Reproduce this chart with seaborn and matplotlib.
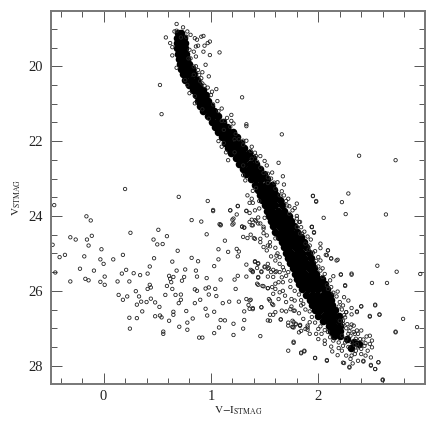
import matplotlib
matplotlib.use('Agg')
import matplotlib.pyplot as plt
import pandas as pd
import seaborn as sns
from matplotlib.ticker import MultipleLocator

# solid core of the main sequence, read row by row (colour, magnitude)
core_upper = [
    (.69,19.10),(.72,19.10),(.68,19.24),(.72,19.24),(.75,19.24),(.68,19.38),(.72,19.38),(.76,19.38),(.685,19.52),(.72,19.52),(.755,19.52),
    (.69,19.66),(.73,19.66),(.77,19.66),(.70,19.80),(.74,19.80),(.78,19.80),(.71,19.94),(.76,19.94),(.80,19.94),(.72,20.08),(.77,20.08),(.82,20.08),
    (.74,20.22),(.79,20.22),(.84,20.22),(.76,20.36),(.81,20.36),(.87,20.36),(.80,20.50),(.85,20.50),(.89,20.50),(.83,20.64),(.88,20.64),(.93,20.64),
    (.86,20.78),(.91,20.78),(.95,20.78),(.88,20.92),(.93,20.92),(.97,20.92),(.90,21.06),(.95,21.06),(1.00,21.06),(.93,21.20),(.98,21.20),(1.03,21.20),
    (.97,21.34),(1.02,21.34),(1.07,21.34),(1.01,21.48),(1.06,21.48),(1.11,21.48),(1.04,21.62),(1.09,21.62),(1.15,21.62),
    (1.07,21.76),(1.12,21.76),(1.17,21.76),(1.21,21.76),(1.10,21.90),(1.15,21.90),(1.20,21.90),(1.24,21.90),(1.13,22.04),(1.18,22.04),(1.23,22.04),(1.28,22.04),
    (1.16,22.18),(1.21,22.18),(1.26,22.18),(1.31,22.18),(1.19,22.32),(1.24,22.32),(1.29,22.32),(1.35,22.32),(1.23,22.46),(1.28,22.46),(1.33,22.46),(1.39,22.46),
    (1.26,22.60),(1.31,22.60),(1.36,22.60),(1.42,22.60),(1.30,22.74),(1.35,22.74),(1.40,22.74),(1.46,22.74),(1.33,22.88),(1.38,22.88),(1.43,22.88),(1.49,22.88),
    (1.37,23.02),(1.42,23.02),(1.47,23.02),(1.52,23.02),
]
core_middle = [
    (1.41,23.16),(1.46,23.16),(1.51,23.16),(1.57,23.16),(1.44,23.30),(1.49,23.30),(1.54,23.30),(1.59,23.30),(1.46,23.44),(1.51,23.44),(1.56,23.44),(1.61,23.44),
    (1.48,23.58),(1.53,23.58),(1.58,23.58),(1.64,23.58),(1.50,23.72),(1.55,23.72),(1.60,23.72),(1.66,23.72),(1.52,23.86),(1.57,23.86),(1.62,23.86),(1.68,23.86),
    (1.54,24.00),(1.59,24.00),(1.64,24.00),(1.70,24.00),(1.73,24.00),(1.56,24.14),(1.61,24.14),(1.66,24.14),(1.71,24.14),(1.75,24.14),
    (1.58,24.28),(1.63,24.28),(1.68,24.28),(1.73,24.28),(1.77,24.28),(1.60,24.42),(1.65,24.42),(1.70,24.42),(1.75,24.42),(1.80,24.42),
    (1.63,24.56),(1.68,24.56),(1.73,24.56),(1.78,24.56),(1.84,24.56),(1.66,24.70),(1.71,24.70),(1.76,24.70),(1.81,24.70),(1.87,24.70),
    (1.68,24.84),(1.73,24.84),(1.78,24.84),(1.83,24.84),(1.89,24.84),(1.70,24.98),(1.75,24.98),(1.80,24.98),(1.85,24.98),(1.91,24.98),
]
core_lower = [
    (1.72,25.12),(1.77,25.12),(1.82,25.12),(1.87,25.12),(1.93,25.12),(1.74,25.26),(1.79,25.26),(1.84,25.26),(1.89,25.26),(1.94,25.26),
    (1.76,25.40),(1.81,25.40),(1.86,25.40),(1.91,25.40),(1.96,25.40),(1.78,25.54),(1.83,25.54),(1.88,25.54),(1.93,25.54),(1.98,25.54),
    (1.80,25.68),(1.85,25.68),(1.90,25.68),(1.95,25.68),(2.00,25.68),(2.03,25.68),(1.82,25.82),(1.87,25.82),(1.92,25.82),(1.97,25.82),(2.02,25.82),(2.06,25.82),
    (1.85,25.96),(1.90,25.96),(1.95,25.96),(2.00,25.96),(2.05,25.96),(2.08,25.96),(1.89,26.10),(1.94,26.10),(1.99,26.10),(2.04,26.10),(2.09,26.10),(2.11,26.10),
    (1.92,26.24),(1.97,26.24),(2.02,26.24),(2.07,26.24),(2.12,26.24),(1.94,26.38),(1.99,26.38),(2.04,26.38),(2.09,26.38),(2.13,26.38),
    (1.97,26.52),(2.02,26.52),(2.07,26.52),(2.12,26.52),(2.16,26.52),(2.00,26.66),(2.05,26.66),(2.10,26.66),(2.15,26.66),(2.19,26.66),
    (2.04,26.80),(2.09,26.80),(2.14,26.80),(2.19,26.80),(2.10,26.94),(2.15,26.94),(2.20,26.94),(2.12,27.08),(2.17,27.08),(2.20,27.08),(2.15,27.22),(2.20,27.22),
    (2.27,27.30),(2.33,27.36),(2.38,27.42),(2.30,27.52),
]

# open circles around the band
fringe_top = [
    (.68,18.87),(.74,18.96),(.78,19.07),(.66,19.07),(.58,19.23),(.62,19.38),(.64,19.49),(.64,19.71),(.68,20.04),(.72,19.23),
    (.77,19.21),(.81,19.16),(.85,19.25),(.87,19.29),(.91,19.21),(.93,19.19),(.99,19.34),(.97,19.38),(.94,19.45),(.88,19.45),
    (.86,19.47),(.93,19.61),(.99,19.70),(1.08,19.63),(.95,19.96),(.98,20.27),(.92,20.16),(.89,20.23),(.84,20.23),(.80,19.56),
    (.84,19.61),(.86,19.74),(.81,19.79),(.84,20.01),(.79,19.79),(.91,20.32),(.92,20.46),(.94,20.52),(.97,20.57),(1.01,20.68),
    (1.05,20.61),(1.00,20.77),(1.06,20.93),(1.02,21.02),(1.10,21.13),(1.07,21.20),(1.19,21.30),(1.15,21.38),(1.21,21.53),(1.10,21.46),
    (1.29,20.83),(1.33,21.55),(.80,20.72),(.78,20.50),(.85,20.99),(.76,20.37),
    (.86,20.00),(.88,20.10),(.90,20.40),(.68,19.05),(.85,20.80),(.92,21.15),(.98,21.40),
]
fringe_mid = [
    (1.13,21.46),(1.19,21.46),(1.18,21.62),(1.23,21.81),(1.26,21.95),(1.30,21.99),(1.33,21.99),(1.66,21.82),(1.37,22.26),(1.41,22.31),
    (1.46,22.40),(1.38,22.47),(1.43,22.55),(1.50,22.53),(1.63,22.58),(1.46,22.71),(1.49,22.85),(1.53,22.87),(1.57,22.84),(1.53,22.97),
    (1.67,22.94),(1.53,23.12),(1.59,23.11),(1.68,23.16),(1.60,23.27),(1.66,23.34),(1.68,23.45),(1.72,23.54),(1.71,23.72),(1.80,23.67),
    (1.78,23.79),(1.73,23.74),(1.95,23.46),(1.98,23.62),(1.73,23.94),(1.80,24.07),(1.83,24.16),(1.80,24.29),(1.94,24.29),
    (1.07,22.00),(1.10,22.15),(1.14,22.30),(1.16,22.51),(1.30,22.91),(1.32,23.05),(1.39,23.33),(1.38,23.54),(1.34,23.45),(1.39,23.65),
    (1.25,23.74),(1.18,23.85),(1.02,23.87),(1.33,23.87),(1.36,23.92),(1.41,23.85),(1.24,23.96),(1.20,24.10),(1.20,24.23),(1.09,24.25),
    (1.29,24.29),(1.31,24.31),(1.36,24.16),(1.39,24.25),(1.41,24.11),(1.46,24.20),(1.49,24.29),(1.44,24.04),(1.45,23.80),
    (1.50,24.05),(1.45,23.60),(1.42,23.25),(1.30,22.65),(1.22,22.30),(1.12,22.05),(1.12,21.70),(1.22,21.95),(1.30,22.10),(1.38,22.15),
    (1.42,22.40),(1.52,22.65),(1.56,23.00),(1.62,23.10),(1.64,23.45),(1.70,23.60),(1.76,23.85),
]
fringe_low = [
    (1.82,24.16),(1.80,24.30),(1.83,24.47),(1.85,24.47),(1.94,24.30),(1.96,24.45),(1.88,24.74),(1.92,24.79),(2.02,24.74),(2.02,24.86),
    (1.97,24.94),(2.00,25.10),(2.08,25.05),(2.09,24.92),(2.12,25.14),(2.17,25.19),(2.21,25.57),(2.31,25.57),(2.25,25.87),(2.02,25.19),
    (2.02,25.46),(2.11,25.72),(2.09,25.95),(2.18,26.02),(2.20,26.30),(2.24,26.17),(2.23,26.39),(2.28,26.26),(2.31,26.46),(2.26,26.57),
    (2.36,26.55),(2.31,26.90),(2.23,26.89),(1.41,25.23),(1.44,25.28),(1.38,25.46),(1.39,25.50),(1.47,25.50),(1.50,25.37),(1.53,25.41),
    (1.56,25.50),(1.60,25.50),(1.44,25.65),(1.53,25.62),(1.58,25.63),(1.49,25.88),(1.53,25.93),(1.44,25.84),(1.58,26.08),(1.60,25.95),
    (1.55,26.26),(1.57,26.35),(1.63,26.22),(1.67,26.00),(1.70,26.30),(1.66,25.64),(1.63,25.77),(1.67,25.77),(1.72,25.50),(1.74,25.73),
    (1.64,26.04),(1.69,26.13),(1.47,26.44),(1.39,26.49),(1.36,26.26),(1.66,26.53),(1.60,26.57),(1.55,26.80),(1.65,26.77),(1.77,26.84),
    (1.72,26.93),(1.77,26.98),(1.83,26.93),(1.90,26.98),(1.74,26.49),(1.78,26.53),(1.78,26.26),(1.75,26.22),(1.38,24.25),(1.44,24.20),
    (1.49,24.34),(1.41,24.61),(1.46,24.70),(1.52,24.52),(1.55,24.70),(1.49,24.83),(1.56,25.08),(1.53,25.28),(1.64,25.28),(1.60,25.19),
    (1.52,24.92),(1.61,25.06),(1.64,25.50),(1.67,25.37),
    (1.80,24.00),(1.84,24.30),(1.87,24.42),(1.90,24.55),(1.93,24.63),(1.91,24.90),(1.95,24.98),(1.98,25.20),(2.00,25.35),(2.04,25.40),
    (2.06,25.55),(2.04,25.63),(2.08,25.85),(2.12,25.90),(2.14,26.05),(2.17,26.15),(2.19,26.42),(2.22,26.50),(2.24,26.65),(2.23,26.80),
    (1.60,24.60),(1.60,24.85),(1.62,25.00),(1.64,25.10),(1.68,25.45),(1.70,25.60),(1.74,25.90),(1.78,26.00),(1.82,26.10),(1.84,26.25),
    (1.86,26.35),(1.88,26.50),(1.92,26.55),(1.94,26.70),(1.97,26.85),(1.70,26.55),(1.82,26.60),(1.86,26.75),
]
fringe_tail = [
    (2.40,26.42),(2.53,26.39),(2.48,26.69),(2.57,26.64),(2.72,27.11),(2.36,26.57),(2.31,26.63),(2.26,26.57),(2.33,26.93),(2.40,27.06),
    (2.37,27.15),(2.45,27.22),(2.48,27.20),(2.50,27.33),(2.48,27.42),(2.44,27.40),(2.50,27.51),(2.46,27.60),(2.44,27.73),(2.49,27.78),
    (2.42,27.89),(2.37,27.87),(2.40,27.69),(2.34,27.69),(2.31,27.73),(2.30,27.82),(2.24,27.93),(2.32,27.94),(2.29,28.05),(2.49,28.00),
    (2.53,28.09),(2.56,27.91),(2.08,27.87),(1.97,27.80),(1.87,27.62),(1.84,27.67),(1.77,27.39),(2.06,27.42),(2.12,27.49),(2.13,27.62),
    (2.19,27.53),(2.23,27.47),(2.26,27.73),(2.31,27.38),(2.36,27.42),(2.39,27.29),(2.25,27.38),(2.37,27.51),(2.30,27.20),(2.34,27.15),
    (2.11,27.24),(2.06,27.33),(2.00,27.29),(2.03,27.15),(1.98,27.15),(1.92,27.15),(1.88,27.02),(1.82,27.11),(1.76,26.97),(1.76,26.80),
    (1.79,26.90),(1.83,26.93),(1.90,26.93),(1.92,26.84),(2.00,27.02),(2.19,27.38),(2.14,27.33),(2.22,27.20),(2.26,27.29),(2.29,27.08),
    (2.36,27.06),(2.20,26.80),(2.27,26.89),(2.25,26.71),(1.77,26.53),(1.75,26.42),(1.84,26.39),(2.60,28.39),
    (2.26,27.00),(2.30,26.98),(2.33,27.10),(2.28,27.15),(2.35,27.28),(2.42,27.30),(2.43,27.47),(2.34,27.45),(2.28,27.50),(2.22,27.60),
    (2.18,27.72),(2.35,27.60),(2.40,27.55),(2.02,26.95),(2.06,27.05),(2.09,27.10),
]

# scattered field stars
field_left = [
    (-.46,23.71),(-.16,24.01),(-.12,24.12),(-.31,24.57),(-.26,24.63),(-.155,24.63),(-.11,24.53),(-.14,24.79),(-.475,24.77),(-.02,24.89),
    (-.41,25.10),(-.36,25.04),(-.18,25.08),(-.03,25.16),(0,25.28),(.09,25.16),(.18,25.04),(.25,24.45),(.51,24.37),(.465,24.63),
    (.50,24.76),(.55,24.75),(.59,24.54),(.69,24.93),(.47,25.13),(.43,25.35),(.64,25.22),(.82,25.12),(.88,25.21),(.68,25.46),
    (.76,25.43),(.86,25.46),(1.03,25.34),(1.07,25.16),(1.07,24.89),(.82,24.11),(.91,24.15),(.96,24.49),(1.02,23.84),(.97,23.60),
    (1.08,24.22),(-.45,25.51),(-.22,25.41),(-.09,25.46),(-.31,25.75),(-.17,25.68),(-.14,25.72),(-.03,25.76),(.01,25.62),(.01,25.84),
    (.13,25.75),(.24,25.75),(.17,25.54),(.21,25.44),(.28,25.53),(.34,25.58),(.41,25.54),(.43,25.84),(.41,25.95),(.44,25.91),
    (.30,26.01),(.33,26.15),(.22,26.15),(.14,26.11),(.18,26.24),(.31,26.37),(.35,26.29),(.36,26.55),(.40,26.30),(.44,26.21),
    (.48,26.31),(.52,26.43),(.24,26.72),(.31,26.73),(.245,27.01),(.48,26.68),(.525,26.66),(.54,26.71),(.556,27.09),(.556,27.15),
    (.65,26.56),(.65,26.64),(.61,26.80),(.705,26.96),(.78,26.85),(.83,26.74),(.78,27.04),(.89,27.25),(.92,27.25),(1.03,27.13),
    (.965,26.66),(.95,26.48),(.90,26.24),(.85,26.33),(.77,26.54),(.70,26.33),(.72,26.24),(.67,26.11),(.72,26.10),(.64,25.95),
    (.59,25.87),(.575,26.11),(.61,25.60),(.65,25.63),(.62,25.68),(.63,25.77),(.73,25.73),(.75,25.63),(.87,25.62),(.96,25.66),
    (.85,25.96),(.87,26.00),(.95,25.94),(.98,25.91),(.98,26.10),(1.05,26.14),(1.04,25.95),(1.03,26.56),(1.075,26.98),
    (.525,20.50),(.54,21.28),(.20,23.28),(.70,23.49),
]
field_right = [
    (2.63,23.96),(2.255,23.95),(2.22,23.63),(1.98,23.60),(2.05,24.05),(1.94,24.29),(1.96,24.43),(2.55,25.33),(2.73,25.49),(2.95,25.55),
    (2.50,25.79),(2.64,25.79),(2.53,26.37),(2.57,26.63),(2.79,26.75),(2.48,26.67),(2.72,27.09),(2.92,26.97),(2.60,28.37),(2.31,25.54),
    (2.21,25.56),(2.14,25.61),(2.25,25.85),(2.18,25.17),(2.12,25.13),(2.09,24.92),(2.07,25.04),(2.40,26.41),(1.13,24.66),(1.16,24.96),
    (1.25,25.08),(1.26,24.95),(1.24,24.88),(1.09,25.70),(1.23,25.95),(1.22,25.70),(1.25,25.60),(1.33,25.62),(1.09,24.23),(1.18,23.85),
    (1.25,23.73),(1.21,24.07),(1.21,24.20),(1.29,24.28),(1.31,24.31),(1.33,23.86),(1.36,23.65),(1.38,24.10),(1.42,24.14),(1.30,24.56),
    (1.34,24.59),(1.37,24.50),(1.40,24.59),(1.46,24.61),(1.49,24.46),(1.55,24.81),(1.53,24.79),(1.33,25.30),(1.37,25.44),(1.39,25.48),
    (1.43,25.39),(1.47,25.48),(1.50,25.35),(1.54,25.39),(1.58,25.44),(1.61,25.48),(1.41,25.21),(1.44,25.26),(1.44,25.63),(1.43,25.81),
    (1.48,25.87),(1.53,25.93),(1.57,25.90),(1.60,25.81),(1.54,26.22),(1.58,26.38),(1.55,26.64),(1.58,26.64),(1.53,26.79),(1.47,26.44),
    (1.39,26.46),(1.36,26.48),(1.35,26.38),(1.37,26.24),(1.33,26.22),(1.31,26.55),(1.31,26.78),(1.26,26.29),(1.17,26.29),(1.11,26.33),
    (1.13,26.79),(1.09,26.78),(1.21,26.88),(1.30,27.01),(1.21,27.18),(1.46,27.21),(1.65,26.76),(1.72,26.85),(1.76,26.96),(1.79,26.88),
    (1.83,26.91),(1.84,27.07),(1.90,27.04),(1.77,27.36),(1.72,27.60),(1.84,27.65),(1.87,27.60),(1.97,27.79),(2.08,27.85),(2.29,28.03),
    (2.23,27.92),(2.42,27.87),(2.49,27.98),(2.53,28.09),(2.56,27.91),(2.38,22.39),(2.72,22.51),(1.95,23.47),(2.28,23.40),(1.33,21.60),
]

x_ticks = [0, 1, 2]
y_ticks = [20, 22, 24, 26, 28]

core = pd.DataFrame(core_upper + core_middle + core_lower, columns=['color', 'mag'])
stars = pd.DataFrame(fringe_top + fringe_mid + fringe_low + fringe_tail + field_left + field_right,
                     columns=['color', 'mag'])

sns.set_style('ticks')
plt.rcParams['font.family'] = ['Liberation Serif', 'DejaVu Serif']
plt.rcParams['mathtext.fontset'] = 'stix'

fig = plt.figure(figsize=(4.36, 4.24), dpi=100)
ax = fig.add_axes([51 / 436, 1 - 384 / 424, 374 / 436, 373.5 / 424])

sns.scatterplot(data=core, x='color', y='mag', ax=ax, s=30, color='black', linewidth=0, legend=False)
sns.scatterplot(data=stars, x='color', y='mag', ax=ax, s=6, facecolor='none', edgecolor='#222222',
                linewidth=0.6, legend=False)

ax.set_xlim(-0.49, 2.994)
ax.set_ylim(28.49, 18.51)
ax.set_xticks(x_ticks)
ax.set_yticks(y_ticks)
ax.xaxis.set_minor_locator(MultipleLocator(0.2))
ax.yaxis.set_minor_locator(MultipleLocator(0.5))
ax.tick_params(which='major', direction='in', length=8, width=0.7, color='#555555',
               top=True, right=True, labelsize=10.5, labelcolor='#222222')
ax.tick_params(which='minor', direction='in', length=4, width=0.7, color='#555555', top=True, right=True)
ax.tick_params(axis='x', which='major', pad=4)
ax.tick_params(axis='y', which='major', pad=6)
for spine in ax.spines.values():
    spine.set_color('#777777')
    spine.set_linewidth(1.4)

ax.set_xlabel(r'$\mathrm{V{-}I_{STMAG}}$', fontsize=8)
ax.set_ylabel(r'$\mathrm{V_{STMAG}}$', fontsize=8)
ax.xaxis.set_label_coords(0.5, -0.055)
ax.yaxis.set_label_coords(-0.075, 0.5)

plt.savefig('out.png', dpi=100)
